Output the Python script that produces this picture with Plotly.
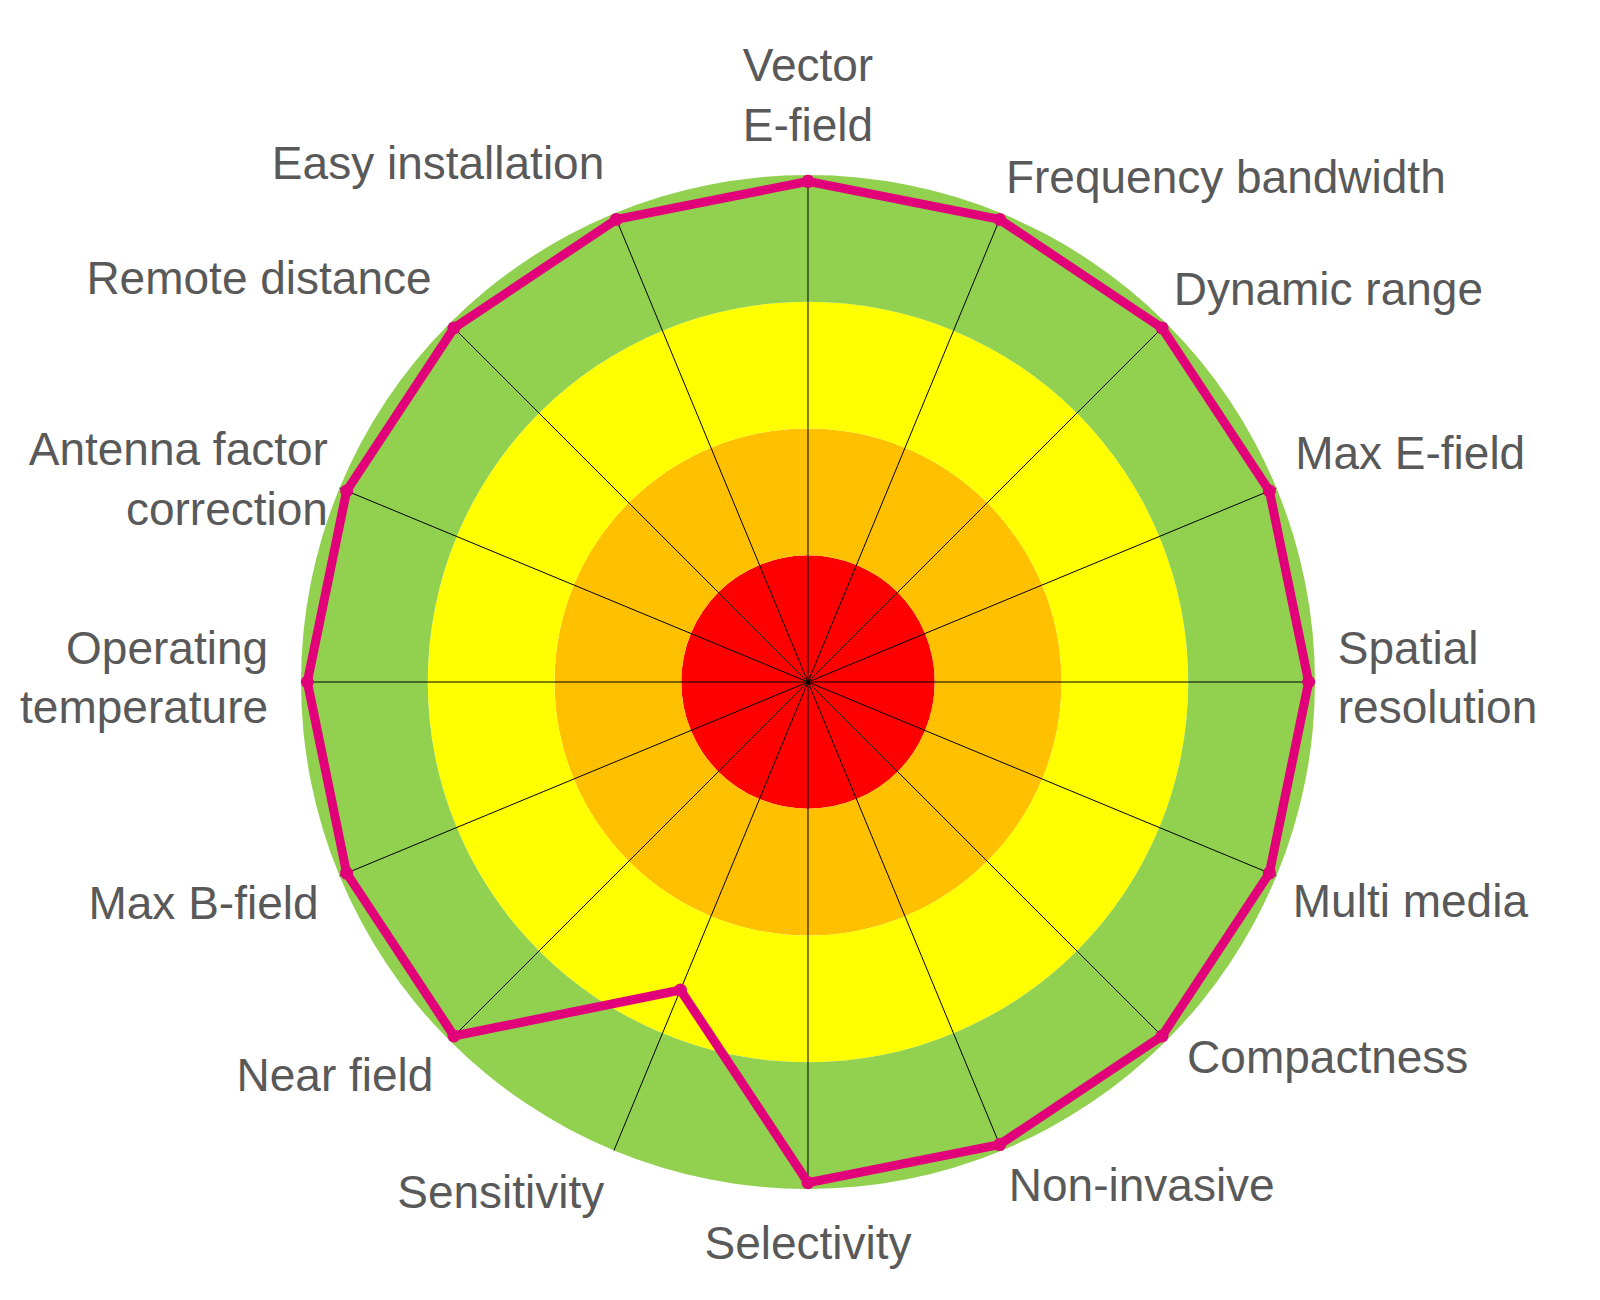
import plotly.graph_objects as go

categories = ["Vector<br>E-field", "Frequency bandwidth", "Dynamic range", "Max E-field",
              "Spatial<br>resolution", "Multi media", "Compactness", "Non-invasive",
              "Selectivity", "Sensitivity", "Near field", "Max B-field",
              "Operating<br>temperature", "Antenna factor<br>correction", "Remote distance",
              "Easy installation"]
scores = [3.95, 3.95, 3.95, 3.94, 3.95, 3.94, 3.95, 3.95,
          3.95, 2.63, 3.95, 3.94, 3.95, 3.94, 3.95, 3.95]
ring_edges = [1, 2, 3, 4]
ring_colors = ["#FF0000", "#FFC000", "#FFFF00", "#92D050"]

# label placement (layout only): anchor side and distance from centre in radial units
label_positions = ["top center", "top right", "top right", "top right",
                   "middle right", "bottom right", "middle right", "bottom right",
                   "bottom center", "bottom left", "bottom left", "bottom left",
                   "middle left", "middle left", "top left", "top left"]
label_radius = [4.18, 4.08, 4.08, 4.16, 4.18, 4.14, 4.23, 4.14,
                4.28, 4.2, 4.18, 4.18, 4.26, 4.1, 4.2, 4.2]
r_max = 4.3

step = 360 / len(categories)
angles = [i * step for i in range(len(categories))]
FONT = "Liberation Sans, Arial, sans-serif"

# geometry: centre (800, 674) px, 126.75 px per unit
cx, cy, unit, W, H = 800, 674, 126.75, 1600, 1300
half = r_max * unit
dom_x = [(cx - half) / W, (cx + half) / W]
dom_y = [1 - (cy + half) / H, 1 - (cy - half) / H]

fig = go.Figure()

prev = 0
for edge, col in zip(ring_edges, ring_colors):
    fig.add_trace(go.Barpolar(r=[edge - prev], theta=[0], width=[360], base=[prev],
                              marker=dict(color=col, line=dict(width=0)),
                              hoverinfo="skip", showlegend=False))
    prev = edge

spoke_r, spoke_t = [], []
for a in angles:
    spoke_r += [0, ring_edges[-1], None]
    spoke_t += [a, a, None]
fig.add_trace(go.Scatterpolar(r=spoke_r, theta=spoke_t, mode="lines",
                              line=dict(color="black", width=1),
                              hoverinfo="skip", showlegend=False))

fig.add_trace(go.Scatterpolar(r=scores + [scores[0]], theta=angles + [angles[0]],
                              mode="lines+markers",
                              line=dict(color="#E2007A", width=9),
                              marker=dict(color="#E2007A", size=13),
                              showlegend=False))

fig.add_trace(go.Scatterpolar(r=label_radius, theta=angles,
                              mode="text", text=categories,
                              textposition=label_positions,
                              textfont=dict(family=FONT, size=46, color="#595959"),
                              cliponaxis=False, hoverinfo="skip", showlegend=False))

fig.update_layout(
    width=W, height=H,
    margin=dict(l=0, r=0, t=0, b=0),
    paper_bgcolor="white",
    font=dict(family=FONT, size=46, color="#595959"),
    polar=dict(
        domain=dict(x=dom_x, y=dom_y),
        bgcolor="rgba(0,0,0,0)",
        barmode="overlay",
        radialaxis=dict(range=[0, r_max], visible=False),
        angularaxis=dict(direction="clockwise", rotation=90,
                         tickmode="array", tickvals=angles,
                         showticklabels=False,
                         showgrid=False, showline=False, ticks=""),
    ),
)

fig.write_html("out.html")
